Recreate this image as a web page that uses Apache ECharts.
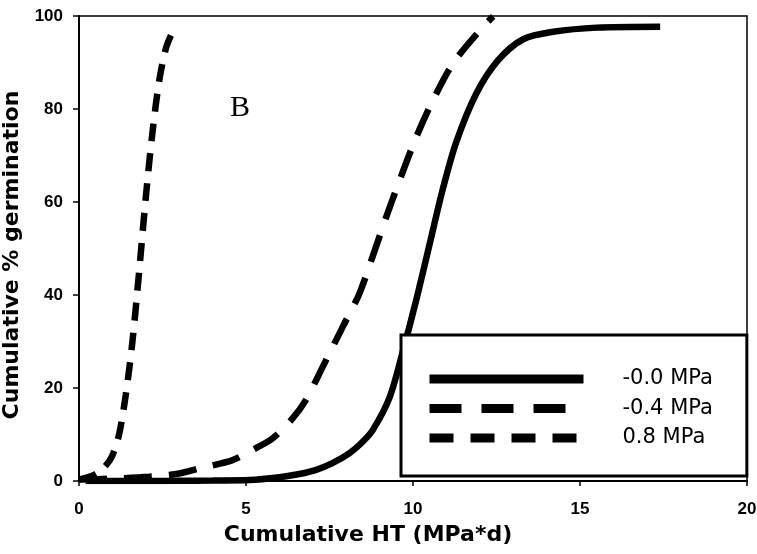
<!DOCTYPE html>
<html>
<head>
<meta charset="utf-8">
<script src="https://cdn.jsdelivr.net/npm/echarts@6/dist/echarts.min.js"></script>
<style>
html,body{margin:0;padding:0;background:#fff;}
#chart{width:757px;height:554px;}
</style>
</head>
<body>
<div id="chart"></div>
<script>
// Series names
var seriesNames = ['-0.0 MPa', '-0.4 MPa', '0.8 MPa'];

// -0.0 MPa (solid)
var x0 = [0.2, 1, 2, 3, 4, 5.1, 6, 6.6, 7.1, 7.6, 8.1, 8.5, 8.8, 9.3, 9.7, 10.1, 10.5, 10.9, 11.3, 11.9, 12.55, 13.3, 14.2, 15.5, 17.4];
var y0 = [0, 0, 0, 0.05, 0.1, 0.2, 0.8, 1.5, 2.4, 3.9, 6, 8.5, 11, 18, 28, 39, 51, 63, 73, 83.4, 90.5, 95, 96.6, 97.5, 97.7];

// -0.4 MPa (long dash)
var x1 = [0, 1, 2.1, 3, 3.6, 4.6, 5.2, 5.8, 6.4, 6.8, 7.3, 7.9, 8.4, 8.85, 9.2, 9.6, 10.1, 10.6, 11.2, 12.1, 12.4];
var y1 = [0.3, 0.5, 0.9, 1.6, 2.7, 4.5, 6.7, 9.2, 13.5, 17.5, 24.6, 33.2, 40.4, 49.5, 56.8, 64.7, 74, 81.9, 89.8, 97.7, 99.9];

// 0.8 MPa (short dash)
var x2 = [0, 0.5, 0.8, 1.0, 1.2, 1.4, 1.6, 1.8, 2.0, 2.2, 2.4, 2.6, 2.78, 2.87];
var y2 = [0.3, 1.5, 3.3, 5.5, 10, 18.5, 30, 45, 61, 75, 86, 93, 96.3, 97.4];

// Axis ticks
var xTicks = [0, 5, 10, 15, 20];
var yTicks = [0, 20, 40, 60, 80, 100];

var panelLabel = 'B';
var xTitle = 'Cumulative HT (MPa*d)';
var yTitle = 'Cumulative % germination';

function zip(xs, ys) { return xs.map(function (x, i) { return [x, ys[i]]; }); }

var chart = echarts.init(document.getElementById('chart'), null, {renderer: 'canvas'});
var sans = 'DejaVu Sans';
var seriesDash = [null, [28, 17], [18, 12]];
var legendDash = ['solid', [32, 20], [24, 17]];
var xs = [x0, x1, x2], ys = [y0, y1, y2];

var option = {
  animation: false,
  backgroundColor: '#fff',
  grid: {left: 79, right: 10, top: 16, bottom: 73, containLabel: false, outerBoundsMode: 'none',
         show: true, borderColor: '#000', borderWidth: 1.5, backgroundColor: 'transparent'},
  xAxis: {
    type: 'value', min: xTicks[0], max: xTicks[xTicks.length - 1], interval: xTicks[1] - xTicks[0],
    splitLine: {show: false},
    axisLine: {lineStyle: {color: '#000', width: 2}},
    axisTick: {length: 5, lineStyle: {color: '#000', width: 1.5}},
    axisLabel: {color: '#000', fontFamily: 'Liberation Sans', fontWeight: 'bold', fontSize: 17, margin: 20},
    name: xTitle, nameLocation: 'middle', nameGap: 43,
    nameTextStyle: {color: '#000', fontFamily: sans, fontWeight: 'bold', fontSize: 22, padding: [0, 90, 0, 0]}
  },
  yAxis: {
    type: 'value', min: yTicks[0], max: yTicks[yTicks.length - 1], interval: yTicks[1] - yTicks[0],
    splitLine: {show: false},
    axisLine: {lineStyle: {color: '#000', width: 2}},
    axisTick: {length: 6, lineStyle: {color: '#000', width: 1.5}},
    axisLabel: {color: '#000', fontFamily: 'Liberation Sans', fontWeight: 'bold', fontSize: 17, margin: 16},
    name: yTitle, nameLocation: 'middle', nameGap: 45,
    nameTextStyle: {color: '#000', fontFamily: sans, fontWeight: 'bold', fontSize: 22, padding: [0, 13, 0, 0]}
  },
  legend: {
    orient: 'vertical', left: 401, top: 335,
    padding: [33.5, 34, 27.5, 24],
    borderColor: '#000', borderWidth: 3, backgroundColor: '#fff',
    itemWidth: 154, itemHeight: 14, itemGap: 8.5,
    selectedMode: false,
    itemStyle: {opacity: 0, color: 'rgba(0,0,0,0)', borderWidth: 0},
    textStyle: {color: '#000', fontFamily: sans, fontSize: 21, lineHeight: 21, padding: [0, 0, 0, 34]},
    data: seriesNames.map(function (n, i) {
      return {name: n, lineStyle: {color: '#000', width: 9, type: legendDash[i]}};
    })
  },
  graphic: [{
    type: 'text', left: 230, top: 93, z: 10,
    style: {text: panelLabel, font: '30px "Liberation Serif"', fill: '#000'}
  }],
  series: seriesNames.map(function (n, i) {
    return {
      name: n, type: 'line', data: zip(xs[i], ys[i]),
      symbol: 'none', smooth: 0.3,
      lineStyle: {color: '#000', width: 6.5, type: seriesDash[i] || 'solid', cap: 'butt'},
      itemStyle: {color: '#000'},
      z: 2
    };
  })
};
chart.setOption(option);
</script>
</body>
</html>
